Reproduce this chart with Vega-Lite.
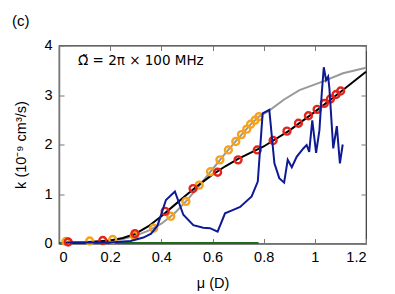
{
  "$schema": "https://vega.github.io/schema/vega-lite/v6.json",
  "width": 307,
  "height": 198,
  "autosize": "none",
  "padding": {"left": 59, "top": 45.5, "right": 29, "bottom": 50.5},
  "background": "white",
  "config": {
    "font": "Liberation Sans",
    "view": {"stroke": "#333333", "strokeWidth": 1.2}
  },
  "title": {"text": "(c)", "anchor": "start", "frame": "group", "dx": -47, "offset": 9, "fontSize": 15, "fontWeight": "normal", "font": "Liberation Sans", "color": "black"},
  "datasets": {
    "green": [{"mu": 0.0, "k": 0.008}, {"mu": 0.78, "k": 0.008}],
    "gray": [
      {"mu": 0.02, "k": 0.02}, {"mu": 0.1, "k": 0.03}, {"mu": 0.2, "k": 0.06}, {"mu": 0.25, "k": 0.09},
      {"mu": 0.3, "k": 0.16}, {"mu": 0.35, "k": 0.26}, {"mu": 0.4, "k": 0.4}, {"mu": 0.45, "k": 0.6},
      {"mu": 0.5, "k": 0.87}, {"mu": 0.55, "k": 1.18}, {"mu": 0.6, "k": 1.5}, {"mu": 0.65, "k": 1.82},
      {"mu": 0.7, "k": 2.12}, {"mu": 0.75, "k": 2.41}, {"mu": 0.78, "k": 2.56}, {"mu": 0.82, "k": 2.68},
      {"mu": 0.88, "k": 2.91}, {"mu": 0.94, "k": 3.1}, {"mu": 1.03, "k": 3.27}, {"mu": 1.11, "k": 3.44},
      {"mu": 1.2, "k": 3.55}
    ],
    "black": [
      {"mu": 0.02, "k": 0.01}, {"mu": 0.1, "k": 0.02}, {"mu": 0.2, "k": 0.06}, {"mu": 0.25, "k": 0.11},
      {"mu": 0.3, "k": 0.2}, {"mu": 0.35, "k": 0.35}, {"mu": 0.4, "k": 0.55}, {"mu": 0.45, "k": 0.77},
      {"mu": 0.5, "k": 0.99}, {"mu": 0.55, "k": 1.2}, {"mu": 0.6, "k": 1.39}, {"mu": 0.65, "k": 1.56},
      {"mu": 0.7, "k": 1.71}, {"mu": 0.8, "k": 1.96}, {"mu": 0.9, "k": 2.28}, {"mu": 1.0, "k": 2.66},
      {"mu": 1.1, "k": 3.06}, {"mu": 1.2, "k": 3.47}
    ],
    "blue": [
      {"mu": 0.03, "k": 0.02}, {"mu": 0.1, "k": 0.02}, {"mu": 0.2, "k": 0.02}, {"mu": 0.28, "k": 0.05},
      {"mu": 0.33, "k": 0.12}, {"mu": 0.36, "k": 0.2}, {"mu": 0.385, "k": 0.36}, {"mu": 0.418, "k": 0.88},
      {"mu": 0.453, "k": 1.05}, {"mu": 0.486, "k": 0.58}, {"mu": 0.525, "k": 0.37}, {"mu": 0.564, "k": 0.32},
      {"mu": 0.59, "k": 0.31}, {"mu": 0.62, "k": 0.24}, {"mu": 0.649, "k": 0.61}, {"mu": 0.681, "k": 0.68},
      {"mu": 0.708, "k": 0.74}, {"mu": 0.753, "k": 0.95}, {"mu": 0.777, "k": 1.25}, {"mu": 0.796, "k": 2.63},
      {"mu": 0.822, "k": 2.7}, {"mu": 0.842, "k": 1.62}, {"mu": 0.861, "k": 1.32}, {"mu": 0.88, "k": 1.23},
      {"mu": 0.894, "k": 1.69}, {"mu": 0.91, "k": 1.54}, {"mu": 0.929, "k": 1.75}, {"mu": 0.955, "k": 1.92},
      {"mu": 0.968, "k": 1.99}, {"mu": 0.978, "k": 1.85}, {"mu": 0.99, "k": 2.49}, {"mu": 1.005, "k": 1.83},
      {"mu": 1.018, "k": 2.29}, {"mu": 1.027, "k": 3.03}, {"mu": 1.035, "k": 3.56}, {"mu": 1.044, "k": 3.3},
      {"mu": 1.052, "k": 3.37}, {"mu": 1.057, "k": 3.13}, {"mu": 1.072, "k": 1.92}, {"mu": 1.086, "k": 2.37},
      {"mu": 1.098, "k": 1.62}, {"mu": 1.109, "k": 2.0}
    ],
    "orange": [
      {"mu": 0.027, "k": 0.04}, {"mu": 0.12, "k": 0.05}, {"mu": 0.21, "k": 0.08}, {"mu": 0.294, "k": 0.16},
      {"mu": 0.37, "k": 0.31}, {"mu": 0.437, "k": 0.55}, {"mu": 0.496, "k": 0.85}, {"mu": 0.548, "k": 1.18},
      {"mu": 0.592, "k": 1.45}, {"mu": 0.629, "k": 1.69}, {"mu": 0.662, "k": 1.89}, {"mu": 0.691, "k": 2.06},
      {"mu": 0.713, "k": 2.2}, {"mu": 0.734, "k": 2.31}, {"mu": 0.749, "k": 2.41}, {"mu": 0.766, "k": 2.49},
      {"mu": 0.781, "k": 2.56}
    ],
    "red": [
      {"mu": 0.036, "k": 0.03}, {"mu": 0.171, "k": 0.06}, {"mu": 0.297, "k": 0.2}, {"mu": 0.415, "k": 0.65},
      {"mu": 0.524, "k": 1.11}, {"mu": 0.62, "k": 1.44}, {"mu": 0.7, "k": 1.69}, {"mu": 0.775, "k": 1.89},
      {"mu": 0.837, "k": 2.08}, {"mu": 0.891, "k": 2.27}, {"mu": 0.936, "k": 2.43}, {"mu": 0.975, "k": 2.58},
      {"mu": 1.009, "k": 2.71}, {"mu": 1.037, "k": 2.83}, {"mu": 1.061, "k": 2.92}, {"mu": 1.083, "k": 3.01},
      {"mu": 1.101, "k": 3.08}
    ]
  },
  "layer": [
    {
      "data": {"name": "green"},
      "mark": {"type": "line", "color": "#1e6b1e", "strokeWidth": 2},
      "encoding": {
        "x": {"field": "mu", "type": "quantitative", "scale": {"domain": [0, 1.2], "nice": false, "zero": false},
          "axis": {"orient": "bottom", "title": "μ (D)", "values": [0, 0.2, 0.4, 0.6, 0.8, 1, 1.2], "format": "~g", "grid": false, "tickSize": -5, "tickColor": "#777777", "domainColor": "#777777", "domainWidth": 1.5, "labelPadding": 12, "titlePadding": 12, "labelFont": "Liberation Sans", "labelFontSize": 14.5, "labelColor": "black", "titleFont": "Liberation Sans", "titleFontSize": 14.5, "titleFontWeight": "normal", "titleColor": "black"}},
        "y": {"field": "k", "type": "quantitative", "scale": {"domain": [0, 4], "nice": false, "zero": false},
          "axis": {"orient": "left", "title": "k (10⁻⁹ cm³/s)", "values": [0, 1, 2, 3, 4], "format": "d", "grid": false, "tickSize": -5, "tickColor": "#777777", "domainColor": "#777777", "domainWidth": 1.5, "labelPadding": 12, "titlePadding": 15, "labelFont": "Liberation Sans", "labelFontSize": 14.5, "labelColor": "black", "titleFont": "Liberation Sans", "titleFontSize": 14.5, "titleFontWeight": "normal", "titleColor": "black"}}
      }
    },
    {
      "data": {"name": "gray"},
      "mark": {"type": "line", "color": "#999999", "strokeWidth": 2},
      "encoding": {
        "x": {"field": "mu", "type": "quantitative", "scale": {"domain": [0, 1.2], "nice": false, "zero": false},
          "axis": {"orient": "top", "title": null, "labels": false, "domain": false, "grid": false, "values": [0, 0.2, 0.4, 0.6, 0.8, 1, 1.2], "tickSize": -5, "tickColor": "#777777"}},
        "y": {"field": "k", "type": "quantitative", "scale": {"domain": [0, 4], "nice": false, "zero": false},
          "axis": {"orient": "right", "title": null, "labels": false, "domain": false, "grid": false, "values": [0, 1, 2, 3, 4], "tickSize": -5, "tickColor": "#777777"}}
      }
    },
    {
      "data": {"name": "black"},
      "mark": {"type": "line", "color": "black", "strokeWidth": 2},
      "encoding": {
        "x": {"field": "mu", "type": "quantitative", "axis": null},
        "y": {"field": "k", "type": "quantitative", "axis": null}
      }
    },
    {
      "data": {"name": "orange"},
      "mark": {"type": "point", "shape": "circle", "filled": false, "color": "#f7a21b", "strokeWidth": 2.4, "size": 48, "opacity": 1},
      "encoding": {
        "x": {"field": "mu", "type": "quantitative", "axis": null},
        "y": {"field": "k", "type": "quantitative", "axis": null}
      }
    },
    {
      "data": {"name": "red"},
      "mark": {"type": "point", "shape": "circle", "filled": false, "color": "#e3241b", "strokeWidth": 2.4, "size": 48, "opacity": 1},
      "encoding": {
        "x": {"field": "mu", "type": "quantitative", "axis": null},
        "y": {"field": "k", "type": "quantitative", "axis": null}
      }
    },
    {
      "data": {"name": "blue"},
      "mark": {"type": "line", "color": "#0d1a94", "strokeWidth": 2},
      "encoding": {
        "x": {"field": "mu", "type": "quantitative", "axis": null},
        "y": {"field": "k", "type": "quantitative", "axis": null}
      }
    },
    {
      "data": {"values": [{"label": "Ω̃ = 2π × 100 MHz"}]},
      "mark": {"type": "text", "align": "left", "baseline": "alphabetic", "fontSize": 13.5, "font": "DejaVu Sans", "color": "black"},
      "encoding": {
        "x": {"datum": 0.074, "type": "quantitative", "axis": null},
        "y": {"datum": 3.6, "type": "quantitative", "axis": null},
        "text": {"field": "label"}
      }
    }
  ],
  "resolve": {"axis": {"x": "independent", "y": "independent"}}
}
